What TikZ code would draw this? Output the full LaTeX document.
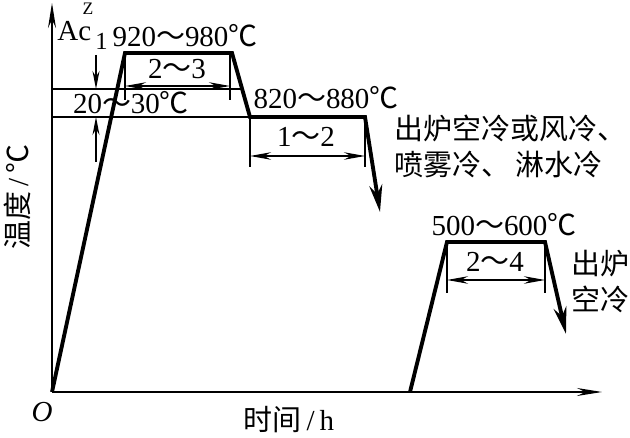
\documentclass[tikz,border=0pt]{standalone}
\usepackage{fontspec}
\setmainfont{Liberation Serif}
\newfontfamily\cjk{Noto Sans CJK SC}
\usetikzlibrary{arrows.meta}
\newcommand\rng{{\cjk ～}}
\newcommand\degc{{\cjk ℃}}

\begin{document}
\begin{tikzpicture}[
  x=0.02cm, y=-0.02cm,
  axis/.style={line width=0.8pt, -{Stealth[length=5mm, width=1.6mm]}},
  curve/.style={line width=2.2pt, line join=miter},
  cool/.style={curve, -{Stealth[length=5.4mm, width=2.6mm]}},
  guide/.style={line width=0.7pt},
  dim/.style={line width=0.7pt, {Stealth[length=4.2mm, width=1.5mm]}-{Stealth[length=4.2mm, width=1.5mm]}},
  mark down/.style={line width=0.7pt, -{Stealth[length=3.6mm, width=1.4mm]}},
  lbl/.style={font=\fontsize{16.5}{19}\selectfont, inner sep=0pt},
  cn/.style={lbl, font=\cjk\fontsize{16.5}{19}\selectfont},
]
\useasboundingbox (0,0) rectangle (630,438);

% axes
\coordinate (o) at (52,392);
\coordinate (ytop) at (52,3);
\coordinate (xend) at (602,392);
\draw[axis] (o) -- (ytop);
\draw[axis] (o) -- (xend);

% first cycle: normalising
\coordinate (a1) at (125,53);
\coordinate (a2) at (232,53);
\coordinate (b1) at (250,117);
\coordinate (b2) at (365,117);
\coordinate (b3) at (380,212);
\draw[cool] (o) -- (a1) -- (a2) -- (b1) -- (b2) -- (b3);

% second cycle: tempering
\coordinate (c0) at (410,392);
\coordinate (c1) at (447,242);
\coordinate (c2) at (545,242);
\coordinate (c3) at (566,334);
\draw[cool] (c0) -- (c1) -- (c2) -- (c3);

% Ac1 band
\coordinate (u0) at (52,89);
\coordinate (u1) at (242,89);
\coordinate (l0) at (52,117);
\draw[guide] (u0) -- (u1);
\draw[guide] (l0) -- (b1);
\coordinate (m1) at (96,55);
\coordinate (m2) at (96,89);
\coordinate (m3) at (96,162);
\coordinate (m4) at (96,117);
\draw[mark down] (m1) -- (m2);
\draw[mark down] (m3) -- (m4);

% holding times
\draw[guide] (a1) -- ++(0,47) coordinate (a1d);
\draw[guide] (230,53) -- ++(0,47) coordinate (a2d);
\draw[dim] (a1 |- 0,86) -- (230,86);
\draw[guide] (b1) -- ++(0,50) coordinate (b1d);
\draw[guide] (b2) -- ++(0,50) coordinate (b2d);
\draw[dim] (b1 |- 0,156) -- (b2 |- 0,156);
\draw[guide] (c1) -- ++(0,51) coordinate (c1d);
\draw[guide] (c2) -- ++(0,51) coordinate (c2d);
\draw[dim] (c1 |- 0,280) -- (c2 |- 0,280);

% Labels
\node[lbl, font=\fontsize{10}{10}\selectfont] (z) at (88,9) {Z};
\node[lbl, anchor=base west] (ac) at (57,41) {Ac\raisebox{-5pt}{\fontsize{14}{14}\selectfont\,1}};
\node[lbl] (t1) at (185,36) {920\rng 980\degc};
\node[lbl] (h1) at (177,69) {2\rng 3};
\node[lbl] (dt) at (131,103) {20\rng 30\degc};
\node[lbl] (t2) at (326,98) {820\rng 880\degc};
\node[lbl] (h2) at (306,137) {1\rng 2};
\node[cn, anchor=west] (q1) at (394,128) {出炉空冷或风冷、};
\node[cn, anchor=west] (q2) at (394,165) {喷雾冷、\,淋水冷};
\node[lbl] (t3) at (504,225) {500\rng 600\degc};
\node[lbl] (h3) at (495,262) {2\rng 4};
\node[cn, anchor=west] (q3) at (571,264) {出炉};
\node[cn, anchor=west] (q4) at (571,299) {空冷};
\node[lbl, rotate=90] (ylab) at (17,197) {{\cjk 温度}\,/\,\degc};
\node[lbl] (xlab) at (289,420) {{\cjk 时间}\,/\,h};
\node[lbl, font=\itshape\fontsize{16.5}{19}\selectfont] (orig) at (42,412) {O};

\end{tikzpicture}
\end{document}
